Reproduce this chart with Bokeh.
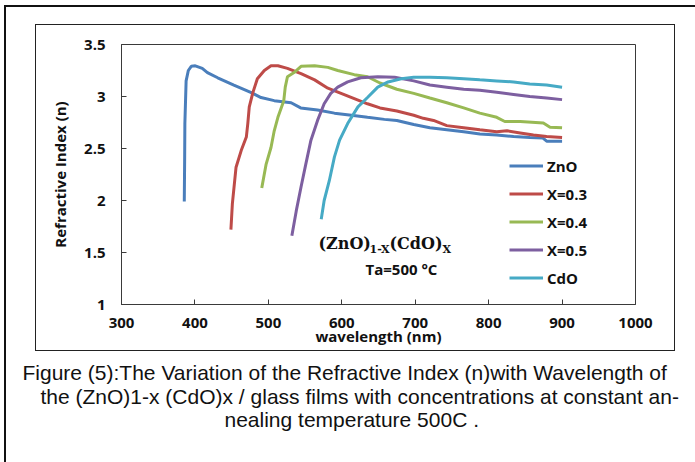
from bokeh.plotting import figure
from bokeh.models import Label, Legend, LegendItem, FixedTicker, Range1d, Title, InlineStyleSheet
from bokeh.embed import file_html
from bokeh.resources import INLINE

# ---------------- data ----------------
series_names = ["ZnO", "X=0.3", "X=0.4", "X=0.5", "CdO"]
colors = ["#4A7EBB", "#BE4B48", "#98B954", "#7D5FA0", "#46AAC5"]

zno_x = [385.5, 386.0, 386.3, 388, 391, 395, 400.5, 410, 417, 431, 453, 476, 490, 508, 531, 544,
         567, 590, 613, 635, 658, 675, 698, 720, 743, 766, 788, 811, 834, 856, 874, 879, 900]
zno_n = [1.99, 2.40, 2.74, 3.15, 3.25, 3.29, 3.295, 3.27, 3.23, 3.18, 3.11, 3.04, 2.99, 2.96, 2.94, 2.89,
         2.87, 2.84, 2.82, 2.80, 2.78, 2.77, 2.73, 2.70, 2.68, 2.66, 2.64, 2.63, 2.615, 2.605, 2.60, 2.57, 2.57]

x03_x = [449, 451, 456, 463, 470, 472, 474, 479, 485, 494.5, 503.6, 513, 526, 544.5, 563, 581, 599, 617,
         635, 652, 675, 698, 711, 725, 743, 766, 788, 811, 825, 843, 861, 879, 900]
x03_n = [1.72, 1.97, 2.32, 2.48, 2.61, 2.74, 2.90, 3.04, 3.17, 3.25, 3.295, 3.295, 3.27, 3.22, 3.16, 3.08, 3.03, 2.98,
         2.93, 2.89, 2.86, 2.82, 2.79, 2.77, 2.72, 2.70, 2.68, 2.66, 2.67, 2.65, 2.63, 2.615, 2.605]

x04_x = [491, 497, 503.6, 508, 513, 517, 521, 523, 526, 535, 544.5, 563, 581, 594.5, 617, 635, 652, 675,
         698, 720, 743, 766, 788, 811, 822, 843, 874.5, 883.6, 900]
x04_n = [2.12, 2.35, 2.51, 2.67, 2.80, 2.88, 2.96, 3.09, 3.19, 3.23, 3.29, 3.295, 3.28, 3.25, 3.21, 3.19, 3.13, 3.07,
         3.03, 2.985, 2.94, 2.89, 2.84, 2.80, 2.76, 2.76, 2.745, 2.705, 2.70]

x05_x = [532, 538, 544.5, 551, 558, 567, 576, 585, 594.5, 608, 626, 649, 672, 698, 720, 743, 766, 788,
         811, 834, 856, 879, 900]
x05_n = [1.66, 1.90, 2.13, 2.35, 2.58, 2.77, 2.93, 3.03, 3.09, 3.14, 3.18, 3.19, 3.185, 3.15, 3.11, 3.09, 3.07, 3.06,
         3.04, 3.02, 3.00, 2.985, 2.97]

cdo_x = [572, 576, 583, 590, 597, 608, 622, 635, 649, 663, 681, 698, 720, 743, 766, 788, 811, 834, 856, 879, 900]
cdo_n = [1.82, 2.00, 2.19, 2.42, 2.58, 2.74, 2.90, 2.99, 3.09, 3.14, 3.17, 3.185, 3.185, 3.18, 3.17, 3.16, 3.15,
         3.14, 3.12, 3.11, 3.09]

x_ticks = [300, 400, 500, 600, 700, 800, 900, 1000]
y_ticks = [1, 1.5, 2, 2.5, 3, 3.5]
y_tick_labels = ["1", "1.5", "2", "2.5", "3", "3.5"]

caption_lines = [
    "Figure (5):The Variation of the Refractive Index (n)with Wavelength of",
    "the (ZnO)1-x (CdO)x / glass films with concentrations at constant an-",
    "nealing temperature 500C .",
]

# ---------------- figure ----------------
W, H = 695, 462
FL, FR, FT, FB_ = 121, 60, 44, 158
FB = H - FB_  # canvas y of frame bottom

def sx(X):
    return X - FL

def sy(Y):
    return FB - Y

frames_css = InlineStyleSheet(css="""
:host { position: relative; }
:host::before {
  content: ''; position: absolute; left: 35px; top: 24px; width: 640px; height: 327px;
  border: 1.5px solid #222; box-sizing: border-box; pointer-events: none; z-index: 50;
}
:host::after {
  content: ''; position: absolute; left: 4px; top: 5px; width: 700px; height: 470px;
  border-left: 2px solid #111; border-top: 2px solid #111; box-sizing: border-box;
  pointer-events: none; z-index: 50;
}
""")

p = figure(width=W, height=H, x_range=Range1d(300, 1000), y_range=Range1d(1, 3.5),
           output_backend="svg", toolbar_location=None,
           min_border_left=FL, min_border_right=FR, min_border_top=FT, min_border_bottom=FB_,
           stylesheets=[frames_css])
p.background_fill_color = "white"
p.border_fill_color = "white"
p.outline_line_color = "#3a3a3a"
p.outline_line_width = 1
p.grid.visible = False

AX_FONT = "Open Sans"
for ax in (p.xaxis[0], p.yaxis[0]):
    ax.axis_line_color = "#3a3a3a"
    ax.major_tick_line_color = "#3a3a3a"
    ax.major_tick_in = 5
    ax.major_tick_out = 0
    ax.minor_tick_line_color = None
    ax.major_label_text_font = AX_FONT
    ax.major_label_text_font_style = "bold"
    ax.major_label_text_font_size = "15px"
    ax.major_label_text_color = "#111111"
    ax.axis_label_text_font = AX_FONT
    ax.axis_label_text_font_style = "bold"
    ax.axis_label_text_font_size = "15px"
    ax.axis_label_text_color = "#111111"

p.xaxis.ticker = FixedTicker(ticks=x_ticks)
p.yaxis.ticker = FixedTicker(ticks=y_ticks)
p.yaxis.major_label_overrides = {t: l for t, l in zip(y_ticks, y_tick_labels)}
p.xaxis.axis_label = "wavelength (nm)"
p.yaxis.axis_label = "Refractive Index (n)"
p.xaxis.major_label_standoff = 13
p.xaxis.axis_label_standoff = -5
p.yaxis.major_label_standoff = 16
p.yaxis.axis_label_standoff = 11

xs = [zno_x, x03_x, x04_x, x05_x, cdo_x]
ns = [zno_n, x03_n, x04_n, x05_n, cdo_n]
items = []
for name, c, x, n in zip(series_names, colors, xs, ns):
    r = p.line(x, n, line_color=c, line_width=3)
    items.append(LegendItem(label=name, renderers=[r]))

legend = Legend(items=items, location=(sx(509), sy(288)), orientation="vertical",
                glyph_width=34, glyph_height=21, label_height=21, spacing=7,
                label_standoff=4, padding=0, margin=0,
                border_line_color=None, background_fill_alpha=0,
                label_text_font=AX_FONT, label_text_font_style="bold",
                label_text_font_size="15px", label_text_color="#111111",
                label_text_baseline="middle")
p.add_layout(legend, "center")

# ---------------- annotation ----------------
SERIF = "DejaVu Serif"
ann_y = sy(243)
sub_y = sy(249)
p.add_layout(Label(x=sx(318), y=ann_y, x_units="screen", y_units="screen", text="(ZnO)",
                   text_font=SERIF, text_font_style="bold", text_font_size="16px",
                   text_baseline="middle", text_color="#111111"))
p.add_layout(Label(x=sx(369), y=sub_y, x_units="screen", y_units="screen", text="1-X",
                   text_font=SERIF, text_font_style="bold", text_font_size="11px",
                   text_baseline="middle", text_color="#111111"))
p.add_layout(Label(x=sx(389), y=ann_y, x_units="screen", y_units="screen", text="(CdO)",
                   text_font=SERIF, text_font_style="bold", text_font_size="16px",
                   text_baseline="middle", text_color="#111111"))
p.add_layout(Label(x=sx(442), y=sub_y, x_units="screen", y_units="screen", text="X",
                   text_font=SERIF, text_font_style="bold", text_font_size="11px",
                   text_baseline="middle", text_color="#111111"))
p.add_layout(Label(x=sx(365), y=sy(268), x_units="screen", y_units="screen", text="Ta=500 °C",
                   text_font=AX_FONT, text_font_style="bold", text_font_size="15px",
                   text_baseline="middle", text_color="#111111"))

# ---------------- caption (stacked titles below the axis) ----------------
caption_lefts = [22, 40, 224]
caption_standoffs = [21, -26, 23]
for line, left, so in zip(caption_lines, caption_lefts, caption_standoffs):
    t = Title(text=line, align="left", text_font="Liberation Sans", text_font_size="21px",
              text_font_style="normal", text_color="#111111", standoff=so, offset=left - FL)
    p.add_layout(t, "below")

open("out.html", "w").write(file_html(p, INLINE))
